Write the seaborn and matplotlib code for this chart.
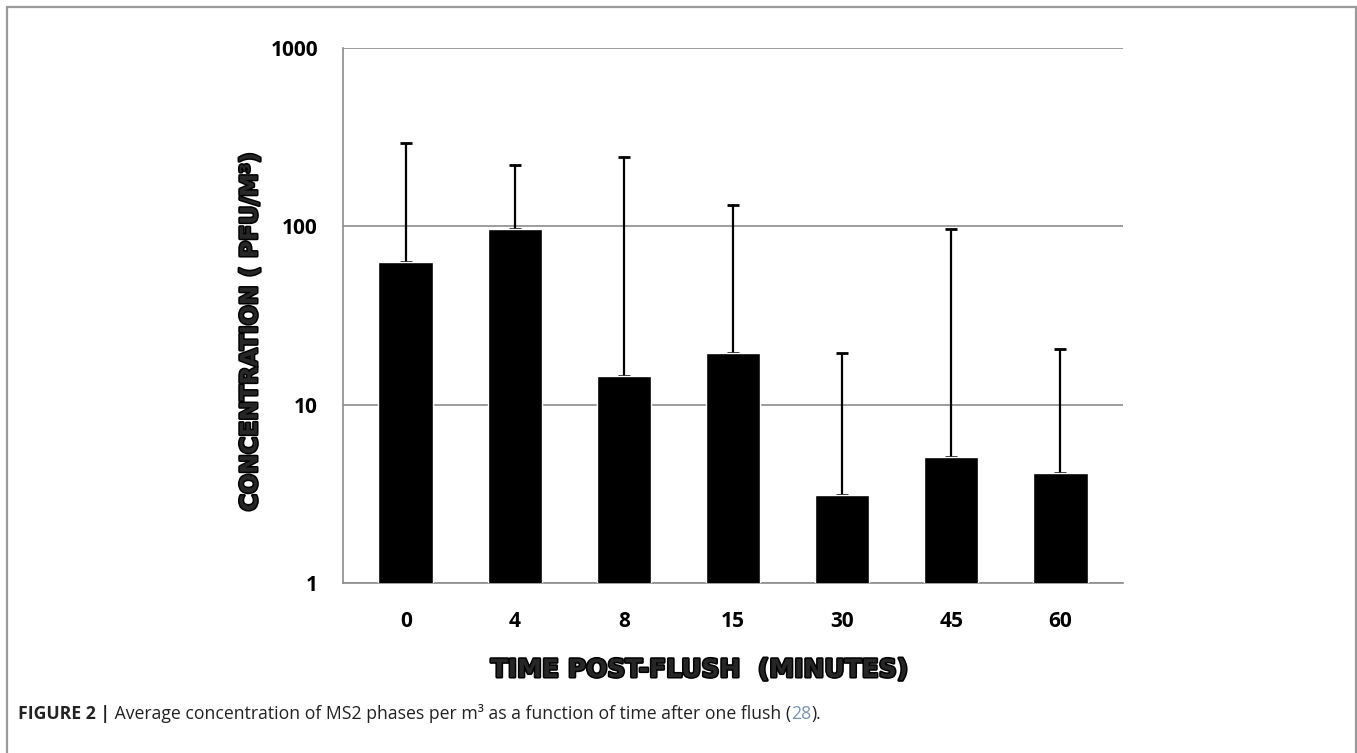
import numpy as np
import pandas as pd
import matplotlib
matplotlib.use("Agg")
import matplotlib.pyplot as plt
import matplotlib.patheffects as pe
from matplotlib.patches import Rectangle
import seaborn as sns

# data
times = ["0", "4", "8", "15", "30", "45", "60"]
mean_conc = [63.5, 97.0, 14.4, 19.6, 3.1, 5.1, 4.15]
upper_err = [295, 220, 244, 131, 19.4, 96, 20.4]

y_ticks = [1, 10, 100, 1000]
y_label = "CONCENTRATION ( PFU/M\u00b3)"
x_label = "TIME POST-FLUSH  (MINUTES)"
caption_bold = "FIGURE 2 |"
caption_text = " Average concentration of MS2 phases per m\u00b3 as a function of time after one flush ("
caption_ref = "28"
caption_end = ")."

df = pd.DataFrame({"time": times, "conc": mean_conc})

sns.set_theme(style="white")
plt.rcParams["font.family"] = ["Open Sans", "DejaVu Sans"]

W, H = 1357, 753
fig = plt.figure(figsize=(W / 100, H / 100), dpi=100)
ax = fig.add_axes([343 / W, 1 - 583 / H, (1123 - 343) / W, (583 - 48) / H])

sns.barplot(data=df, x="time", y="conc", color="black", width=0.5,
            saturation=1, errorbar=None, ax=ax, zorder=3)
ax.set_yscale("log")

# one-sided error bars, placed on the bar centres (lower part hidden by the bars)
centers = [p.get_x() + p.get_width() / 2 for p in ax.patches]
lower = np.zeros(len(mean_conc))
upper = np.array(upper_err) - np.array(mean_conc)
ax.errorbar(centers, mean_conc, yerr=[lower, upper], fmt="none",
            ecolor="black", elinewidth=1.6, capsize=4, capthick=2, zorder=2.5)

ax.set_ylim(1, 1000)
ax.set_yticks(y_ticks)
ax.set_yticklabels([str(t) for t in y_ticks])
ax.minorticks_off()
ax.yaxis.grid(True, color="#8c8c8c", linewidth=1.2)
ax.set_axisbelow(True)

for s in ["top", "right"]:
    ax.spines[s].set_visible(False)
for s in ["left", "bottom"]:
    ax.spines[s].set_color("#8c8c8c")
    ax.spines[s].set_linewidth(1.2)

ax.tick_params(axis="y", length=4, color="#8c8c8c", pad=14, labelsize=15)
ax.tick_params(axis="x", length=0, pad=20, labelsize=15)
for lab in ax.get_xticklabels() + ax.get_yticklabels():
    lab.set_fontweight("bold")
    lab.set_color("black")

heavy = ["DejaVu Sans"]
stroke = [pe.withStroke(linewidth=2.2, foreground="black")]
ax.set_xlabel("")
ax.set_ylabel("")
fig.text(699 / W, 1 - 670 / H, x_label, ha="center", va="center",
         family=heavy, fontweight="bold", fontsize=18, path_effects=stroke)
fig.text(250 / W, 1 - 332 / H, y_label, ha="center", va="center", rotation=90,
         family=heavy, fontweight="bold", fontsize=17, path_effects=stroke)

# caption
cap_family = ["Open Sans", "DejaVu Sans"]
t1 = fig.text(18 / W, 1 - 714 / H, caption_bold, ha="left", va="center",
              family=cap_family, fontweight="bold", fontsize=12.7, color="#222222")
t2 = plt.annotate(caption_text, xy=(1, 0), xycoords=t1, va="bottom",
                  family=cap_family, fontsize=12.7, color="#222222")
t3 = plt.annotate(caption_ref, xy=(1, 0), xycoords=t2, va="bottom",
                  family=cap_family, fontsize=12.7, color="#7a93b8")
plt.annotate(caption_end, xy=(1, 0), xycoords=t3, va="bottom",
             family=cap_family, fontsize=12.7, color="#222222")

# figure frame
fig.patches.append(Rectangle((7 / W, -0.02), (1356 - 7) / W, 1.02 - 7 / H,
                             transform=fig.transFigure, fill=False,
                             edgecolor="#9a9a9a", linewidth=1.6))

fig.savefig("out.png", dpi=100)
